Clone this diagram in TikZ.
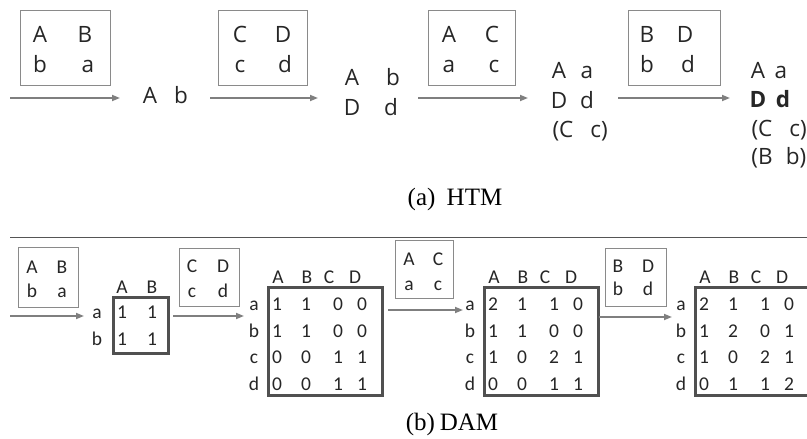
\documentclass[tikz,border=0pt]{standalone}
\usepackage{fontspec}
\setmainfont{Liberation Serif}
\newfontfamily\topfont{Open Sans}
\newfontfamily\botfont{Carlito}
\usetikzlibrary{arrows.meta}
\definecolor{boxgray}{HTML}{8A8A8A}
\definecolor{matgray}{HTML}{505050}
\definecolor{arrgray}{HTML}{7F7F7F}
\definecolor{txtgray}{HTML}{262626}
\definecolor{sepgray}{HTML}{555555}
\newcommand\dammat[3]{%
  \node[mbox, minimum width=114pt, minimum height=108pt, anchor=north west] (#1) at (#2,286) {};
  \foreach \h/\dx in {A/11,B/40,C/62,D/88}
    \node[bt] (#1h\h) at (#2+\dx,283) {\h};
  \foreach \r/\yy/\va/\vb/\vc/\vd in {#3} {
    \node[bt] (#1\r) at (#2-13,\yy) {\r};
    \node[bt] (#1\r1) at (#2+10,\yy) {\va};
    \node[bt] (#1\r2) at (#2+39,\yy) {\vb};
    \node[bt] (#1\r3) at (#2+71,\yy) {\vc};
    \node[bt] (#1\r4) at (#2+95,\yy) {\vd};
  }}
\begin{document}
\begin{tikzpicture}[x=1pt,y=-1pt,
  lbox/.style={draw=boxgray, line width=1.3pt, inner sep=0pt},
  mbox/.style={draw=matgray, line width=2.6pt, inner sep=0pt},
  arr/.style={draw=arrgray, line width=1.7pt, -{Triangle[length=8pt,width=6pt]}},
  sepline/.style={draw=sepgray, line width=1pt},
  tt/.style={font=\topfont\fontsize{22.5}{27}\selectfont, text=txtgray, anchor=base, inner sep=0pt},
  ttb/.style={tt, font=\topfont\bfseries\fontsize{22.5}{27}\selectfont},
  bt/.style={font=\botfont\fontsize{19.5}{23}\selectfont, text=txtgray, anchor=base, inner sep=0pt},
  captxt/.style={font=\fontsize{25}{30}\selectfont, text=black, anchor=base, inner sep=0pt}]
\useasboundingbox (0,0) rectangle (807,439);
\clip (0,0) rectangle (807,439);
\fill[white] (0,0) rectangle (807,439);

% ---------------- (a) HTM ----------------
\node[lbox, minimum width=90pt, minimum height=75pt, anchor=north west] (h1) at (20,10) {};
\node[tt] (h1A) at (40,42) {A};
\node[tt] (h1B) at (85,42) {B};
\node[tt] (h1b) at (40,72) {b};
\node[tt] (h1a) at (88,72) {a};

\node[lbox, minimum width=89pt, minimum height=75pt, anchor=north west] (h2) at (218,10) {};
\node[tt] (h2C) at (240,42) {C};
\node[tt] (h2D) at (283,42) {D};
\node[tt] (h2c) at (240,72) {c};
\node[tt] (h2d) at (285,72) {d};

\node[lbox, minimum width=87pt, minimum height=75pt, anchor=north west] (h3) at (428,10) {};
\node[tt] (h3A) at (449,42) {A};
\node[tt] (h3C) at (492,42) {C};
\node[tt] (h3a) at (449,72) {a};
\node[tt] (h3c) at (494,72) {c};

\node[lbox, minimum width=92pt, minimum height=75pt, anchor=north west] (h4) at (628,10) {};
\node[tt] (h4B) at (647,42) {B};
\node[tt] (h4D) at (685,42) {D};
\node[tt] (h4b) at (647,72) {b};
\node[tt] (h4d) at (688,72) {d};

\node[tt] (r1A) at (150,103) {A};
\node[tt] (r1b) at (181,103) {b};

\node[tt] (r2A) at (352,85) {A};
\node[tt] (r2b) at (393,85) {b};
\node[tt] (r2D) at (352,115) {D};
\node[tt] (r2d) at (391,115) {d};

\node[tt] (r3A) at (559,78) {A};
\node[tt] (r3a) at (587,78) {a};
\node[tt] (r3D) at (559,108) {D};
\node[tt] (r3d) at (587,108) {d};
\node[tt] (r3C) at (563,137) {(C};
\node[tt] (r3c) at (599,137) {c)};

\node[tt] (r4A) at (758,78) {A};
\node[tt] (r4a) at (781,78) {a};
\node[ttb] (r4D) at (758,107) {D};
\node[ttb] (r4d) at (783,107) {d};
\node[tt] (r4C) at (762,136) {(C};
\node[tt] (r4c) at (798,136) {c)};
\node[tt] (r4B) at (762,164) {(B};
\node[tt] (r4bb) at (796,164) {b)};

\coordinate (ta1s) at (10,98);  \coordinate (ta1e) at (120,98);
\coordinate (ta2s) at (210,98); \coordinate (ta2e) at (318,98);
\coordinate (ta3s) at (418,98); \coordinate (ta3e) at (528,98);
\coordinate (ta4s) at (618,98); \coordinate (ta4e) at (730,98);
\draw[arr] (ta1s) -- (ta1e);
\draw[arr] (ta2s) -- (ta2e);
\draw[arr] (ta3s) -- (ta3e);
\draw[arr] (ta4s) -- (ta4e);

\node[captxt] (capa) at (455,205) {(a)\hspace{0.45em}HTM};

% separator
\coordinate (s1) at (10,237); \coordinate (s2) at (808,237);
\draw[sepline] (s1) -- (s2);

% ---------------- (b) DAM ----------------
\node[lbox, minimum width=60pt, minimum height=60pt, anchor=north west] (d1) at (18,247) {};
\node[bt] (d1A) at (32,273) {A};
\node[bt] (d1B) at (62,273) {B};
\node[bt] (d1b) at (32,297) {b};
\node[bt] (d1a) at (62,297) {a};

\node[lbox, minimum width=60pt, minimum height=58pt, anchor=north west] (d2) at (179,248) {};
\node[bt] (d2C) at (192,272) {C};
\node[bt] (d2D) at (223,272) {D};
\node[bt] (d2c) at (192,297) {c};
\node[bt] (d2d) at (223,297) {d};

\node[lbox, minimum width=58pt, minimum height=58pt, anchor=north west] (d3) at (395,240) {};
\node[bt] (d3A) at (409,265) {A};
\node[bt] (d3C) at (438,265) {C};
\node[bt] (d3a) at (409,290) {a};
\node[bt] (d3c) at (438,290) {c};

\node[lbox, minimum width=61pt, minimum height=58pt, anchor=north west] (d4) at (605,248) {};
\node[bt] (d4B) at (618,272) {B};
\node[bt] (d4D) at (648,272) {D};
\node[bt] (d4b) at (618,295) {b};
\node[bt] (d4d) at (648,295) {d};

% matrix 1
\node[mbox, minimum width=55pt, minimum height=56pt, anchor=north west] (m1) at (112,296) {};
\node[bt] (m1hA) at (122,293) {A};
\node[bt] (m1hB) at (152,293) {B};
\node[bt] (m1a) at (97,318) {a};
\node[bt] (m1b) at (97,345) {b};
\node[bt] (m1a1) at (122,318) {1};
\node[bt] (m1a2) at (152,318) {1};
\node[bt] (m1b1) at (122,345) {1};
\node[bt] (m1b2) at (152,345) {1};

\dammat{m2}{267}{a/310/1/1/0/0, b/337/1/1/0/0, c/363/0/0/1/1, d/390/0/0/1/1}
\dammat{m3}{483}{a/310/2/1/1/0, b/337/1/1/0/0, c/363/1/0/2/1, d/390/0/0/1/1}
\dammat{m4}{694}{a/310/2/1/1/0, b/337/1/2/0/1, c/363/1/0/2/1, d/390/0/1/1/2}

\coordinate (ba1s) at (10,316);  \coordinate (ba1e) at (84,316);
\coordinate (ba2s) at (173,316); \coordinate (ba2e) at (244,316);
\coordinate (ba3s) at (388,310); \coordinate (ba3e) at (463,310);
\coordinate (ba4s) at (599,317); \coordinate (ba4e) at (672,317);
\draw[arr] (ba1s) -- (ba1e);
\draw[arr] (ba2s) -- (ba2e);
\draw[arr] (ba3s) -- (ba3e);
\draw[arr] (ba4s) -- (ba4e);

\node[captxt] (capb) at (452,430) {(b)\hspace{0.2em}DAM};
\end{tikzpicture}
\end{document}
